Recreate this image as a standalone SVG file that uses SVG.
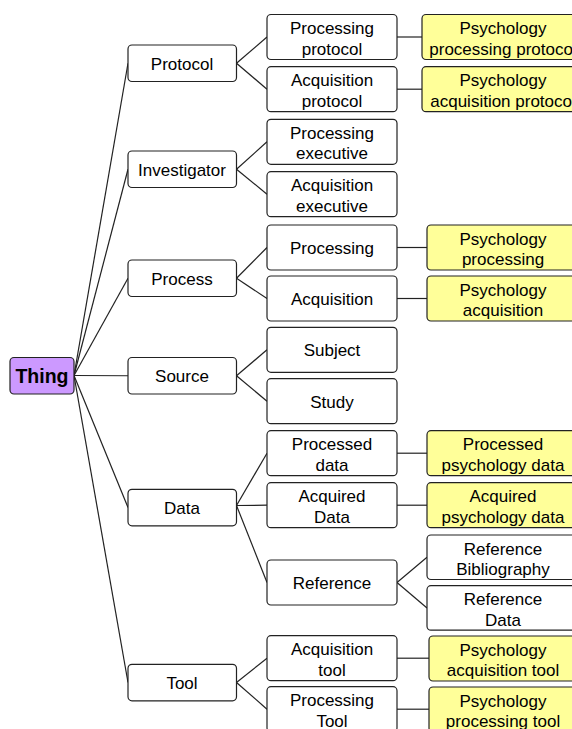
<svg xmlns="http://www.w3.org/2000/svg" width="572" height="729" viewBox="0 0 572 729">
<style>
rect{stroke:#222;stroke-width:1.2}
.w{fill:#fff}
.y{fill:#ffff99}
.p{fill:#cc99ff}
text{font-family:"Liberation Sans",Arial,sans-serif;font-size:17px;fill:#000;text-anchor:middle}
.b{font-weight:bold;font-size:19.5px}
#connectors line{stroke:#222;stroke-width:1.2}
</style>
<rect width="572" height="729" fill="#fff" style="stroke:none"/>
<g id="connectors">
<line x1="74" y1="375.5" x2="128" y2="63.25"/>
<line x1="74" y1="375.5" x2="128" y2="169.25"/>
<line x1="74" y1="375.5" x2="128" y2="278.25"/>
<line x1="74" y1="375.5" x2="128" y2="375.75"/>
<line x1="74" y1="375.5" x2="128" y2="507.5"/>
<line x1="74" y1="375.5" x2="128" y2="682.5"/>
<line x1="236.5" y1="63.25" x2="267" y2="37"/>
<line x1="236.5" y1="63.25" x2="267" y2="89.2"/>
<line x1="236.5" y1="169.25" x2="267" y2="141.8"/>
<line x1="236.5" y1="169.25" x2="267" y2="194.2"/>
<line x1="236.5" y1="278.25" x2="267" y2="247.5"/>
<line x1="236.5" y1="278.25" x2="267" y2="298.5"/>
<line x1="236.5" y1="375.75" x2="267" y2="349.8"/>
<line x1="236.5" y1="375.75" x2="267" y2="401.2"/>
<line x1="236.5" y1="505.5" x2="267" y2="453.2"/>
<line x1="236.5" y1="505.5" x2="267" y2="505.2"/>
<line x1="236.5" y1="505.5" x2="267" y2="582.5"/>
<line x1="236.5" y1="682.5" x2="267" y2="658.2"/>
<line x1="236.5" y1="682.5" x2="267" y2="709.2"/>
<line x1="397" y1="37" x2="422" y2="37"/>
<line x1="397" y1="89.2" x2="422" y2="89.2"/>
<line x1="397" y1="247.5" x2="427" y2="247.5"/>
<line x1="397" y1="298.5" x2="427" y2="298.5"/>
<line x1="397" y1="453.2" x2="427" y2="453.2"/>
<line x1="397" y1="505.2" x2="427" y2="505.2"/>
<line x1="397" y1="582.5" x2="427" y2="557.2"/>
<line x1="397" y1="582.5" x2="427" y2="608"/>
<line x1="397" y1="658.2" x2="429" y2="658.2"/>
<line x1="397" y1="709.2" x2="429" y2="709.2"/>
</g>
<g id="thing"><rect class="p" x="10" y="357.5" width="64" height="36.5" rx="4"/><text class="b" x="42" y="383">Thing</text></g>
<g id="protocol"><rect class="w" x="128" y="45" width="108.5" height="36.5" rx="4"/><text x="182" y="69.5">Protocol</text></g>
<g id="investigator"><rect class="w" x="128" y="151" width="108.5" height="36.5" rx="4"/><text x="182" y="175.5">Investigator</text></g>
<g id="process"><rect class="w" x="128" y="260" width="108.5" height="36.5" rx="4"/><text x="182" y="284.5">Process</text></g>
<g id="source"><rect class="w" x="128" y="357.5" width="108.5" height="36.5" rx="4"/><text x="182" y="382">Source</text></g>
<g id="data"><rect class="w" x="128" y="489.3" width="108.5" height="36.5" rx="4"/><text x="182" y="513.8">Data</text></g>
<g id="tool"><rect class="w" x="128" y="664.3" width="108.5" height="36.5" rx="4"/><text x="182" y="688.8">Tool</text></g>
<g id="processing-protocol"><rect class="w" x="267" y="14.5" width="130" height="45" rx="4"/><text x="332" y="34">Processing</text><text x="332" y="54.5">protocol</text></g>
<g id="acquisition-protocol"><rect class="w" x="267" y="66.7" width="130" height="45" rx="4"/><text x="332" y="86.2">Acquisition</text><text x="332" y="106.7">protocol</text></g>
<g id="processing-executive"><rect class="w" x="267" y="119.3" width="130" height="45" rx="4"/><text x="332" y="138.8">Processing</text><text x="332" y="159.3">executive</text></g>
<g id="acquisition-executive"><rect class="w" x="267" y="171.7" width="130" height="45" rx="4"/><text x="332" y="191.2">Acquisition</text><text x="332" y="211.7">executive</text></g>
<g id="processing"><rect class="w" x="267" y="225" width="130" height="45" rx="4"/><text x="332" y="254">Processing</text></g>
<g id="acquisition"><rect class="w" x="267" y="276" width="130" height="45" rx="4"/><text x="332" y="305">Acquisition</text></g>
<g id="subject"><rect class="w" x="267" y="327.3" width="130" height="45" rx="4"/><text x="332" y="356.3">Subject</text></g>
<g id="study"><rect class="w" x="267" y="378.7" width="130" height="45" rx="4"/><text x="332" y="407.7">Study</text></g>
<g id="processed-data"><rect class="w" x="267" y="430.7" width="130" height="45" rx="4"/><text x="332" y="450.2">Processed</text><text x="332" y="470.7">data</text></g>
<g id="acquired-data"><rect class="w" x="267" y="482.7" width="130" height="45" rx="4"/><text x="332" y="502.2">Acquired</text><text x="332" y="522.7">Data</text></g>
<g id="reference"><rect class="w" x="267" y="560" width="130" height="45" rx="4"/><text x="332" y="589">Reference</text></g>
<g id="acquisition-tool"><rect class="w" x="267" y="635.7" width="130" height="45" rx="4"/><text x="332" y="655.2">Acquisition</text><text x="332" y="675.7">tool</text></g>
<g id="processing-tool"><rect class="w" x="267" y="686.7" width="130" height="45" rx="4"/><text x="332" y="706.2">Processing</text><text x="332" y="726.7">Tool</text></g>
<g id="psychology-processing-protocol"><rect class="y" x="422" y="14.5" width="162" height="45" rx="4"/><text x="503" y="34">Psychology</text><text x="503" y="54.5">processing protocol</text></g>
<g id="psychology-acquisition-protocol"><rect class="y" x="422" y="66.7" width="162" height="45" rx="4"/><text x="503" y="86.2">Psychology</text><text x="503" y="106.7">acquisition protocol</text></g>
<g id="psychology-processing"><rect class="y" x="427" y="225" width="152" height="45" rx="4"/><text x="503" y="244.5">Psychology</text><text x="503" y="265">processing</text></g>
<g id="psychology-acquisition"><rect class="y" x="427" y="276" width="152" height="45" rx="4"/><text x="503" y="295.5">Psychology</text><text x="503" y="316">acquisition</text></g>
<g id="processed-psychology-data"><rect class="y" x="427" y="430.7" width="152" height="45" rx="4"/><text x="503" y="450.2">Processed</text><text x="503" y="470.7">psychology data</text></g>
<g id="acquired-psychology-data"><rect class="y" x="427" y="482.7" width="152" height="45" rx="4"/><text x="503" y="502.2">Acquired</text><text x="503" y="522.7">psychology data</text></g>
<g id="reference-bibliography"><rect class="w" x="427" y="535" width="152" height="44.5" rx="4"/><text x="503" y="554.5">Reference</text><text x="503" y="575">Bibliography</text></g>
<g id="reference-data"><rect class="w" x="427" y="585.7" width="152" height="44.5" rx="4"/><text x="503" y="605.2">Reference</text><text x="503" y="625.7">Data</text></g>
<g id="psychology-acquisition-tool"><rect class="y" x="429" y="636" width="150" height="45" rx="4"/><text x="503" y="655.5">Psychology</text><text x="503" y="676">acquisition tool</text></g>
<g id="psychology-processing-tool"><rect class="y" x="429" y="687" width="150" height="45" rx="4"/><text x="503" y="706.5">Psychology</text><text x="503" y="727">processing tool</text></g>
</svg>
